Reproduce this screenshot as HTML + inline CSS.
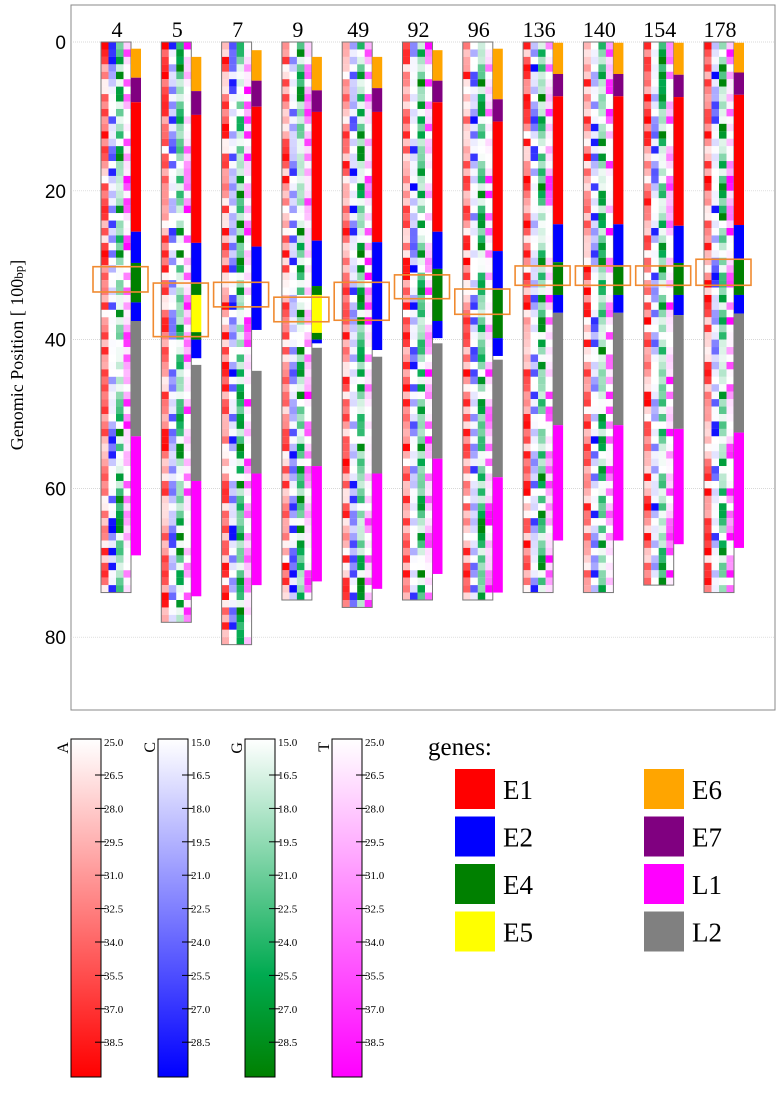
<!DOCTYPE html>
<html><head><meta charset="utf-8"><style>
html,body{margin:0;padding:0;background:#fff;}
svg{display:block;}
</style></head><body>
<svg id="chart" width="781" height="1116" viewBox="0 0 781 1116" xmlns="http://www.w3.org/2000/svg">
<rect x="71" y="5" width="704" height="705" fill="#fff" stroke="#888" stroke-width="1"/>
<g id="grid"></g>
<g id="yaxis"></g>
<text transform="translate(23,355) rotate(-90)" text-anchor="middle" font-family="Liberation Serif, serif" font-size="18">Genomic Position [ 100<tspan font-size="13">bp</tspan>]</text>
<g id="genomes"></g>
<g id="colorbars"></g>
<g id="legend"></g>
</svg>
<script>
const genomeLabels = ['4','5','7','9','49','92','96','136','140','154','178'];
const genomeLengths = [74,78,81,75,76,75,75,74,74,73,74];
const geneSegs0 = [['E6',0.9,4.8],['E7',4.8,8.1],['E1',8.1,25.5],['E2',25.5,29.7],['E4',29.7,35],['E2',35,37.5],['L2',37.5,53],['L1',53,69]];
const geneSegs1 = [['E6',2.0,6.6],['E7',6.6,9.8],['E1',9.8,27],['E2',27,32.4],['E4',32.4,34],['E5',34,39],['E4',39,40],['E2',40,42.5],['L2',43.4,59],['L1',59,74.5]];
const geneSegs2 = [['E6',1.1,5.2],['E7',5.2,8.7],['E1',8.7,27.5],['E2',27.5,38.7],['L2',44.2,58],['L1',58,73]];
const geneSegs3 = [['E6',2.0,6.5],['E7',6.5,9.4],['E1',9.4,26.7],['E2',26.7,32.8],['E4',32.8,34],['E5',34,39.1],['E4',39.1,40],['E2',40,40.5],['L2',41.1,57],['L1',57,72.5]];
const geneSegs4 = [['E6',2.0,6.2],['E7',6.2,9.4],['E1',9.4,26.9],['E2',26.9,41.4],['L2',42.3,58],['L1',58,73.5]];
const geneSegs5 = [['E6',1.1,5.2],['E7',5.2,8.1],['E1',8.1,25.5],['E2',25.5,30.5],['E4',30.5,37.5],['E2',37.5,39.8],['L2',40.5,56],['L1',56,71.5]];
const geneSegs6 = [['E6',0.9,7.7],['E7',7.7,10.7],['E1',10.7,28.1],['E2',28.1,33.3],['E4',33.3,39.8],['E2',39.8,42.2],['L2',42.7,58.5],['L1',58.5,74]];
const geneSegs7 = [['E6',0.1,4.3],['E7',4.3,7.3],['E1',7.3,24.5],['E2',24.5,29.6],['E4',29.6,34],['E2',34,36.4],['L2',36.4,51.5],['L1',51.5,67]];
const geneSegs8 = [['E6',0.1,4.3],['E7',4.3,7.3],['E1',7.3,24.5],['E2',24.5,30.2],['E4',30.2,34],['E2',34,36.4],['L2',36.4,51.5],['L1',51.5,67]];
const geneSegs9 = [['E6',0.1,4.4],['E7',4.4,7.4],['E1',7.4,24.7],['E2',24.7,29.7],['E4',29.7,34],['E2',34,36.7],['L2',36.7,52],['L1',52,67.5]];
const geneSegs10 = [['E6',0.1,4.1],['E7',4.1,7.1],['E1',7.1,24.6],['E2',24.6,29.2],['E4',29.2,34],['E2',34,36.5],['L2',36.5,52.5],['L1',52.5,68]];
const geneSegments = [geneSegs0,geneSegs1,geneSegs2,geneSegs3,geneSegs4,geneSegs5,geneSegs6,geneSegs7,geneSegs8,geneSegs9,geneSegs10];
const highlightStart = [30.2,32.4,32.3,34.3,32.3,31.3,33.2,30.1,30.1,30.1,29.2];
const highlightEnd = [33.6,39.6,35.6,37.6,37.4,34.5,36.6,32.7,32.7,32.7,32.7];
const yTicks = [0,20,40,60,80];
const geneNames = ['E1','E2','E4','E5','E6','E7','L1','L2'];
const geneColors = {E1:'#ff0000',E2:'#0000ff',E4:'#008000',E5:'#ffff00',E6:'#ffa500',E7:'#800080',L1:'#ff00ff',L2:'#808080'};
const cbLetters = ['A','C','G','T'];
const cbTicksA = ['25.0','26.5','28.0','29.5','31.0','32.5','34.0','35.5','37.0','38.5'];
const cbTicksC = ['15.0','16.5','18.0','19.5','21.0','22.5','24.0','25.5','27.0','28.5'];
const cbTicksG = ['15.0','16.5','18.0','19.5','21.0','22.5','24.0','25.5','27.0','28.5'];
const cbTicksT = ['25.0','26.5','28.0','29.5','31.0','32.5','34.0','35.5','37.0','38.5'];

const NS='http://www.w3.org/2000/svg';
function mk(tag,attrs,parent){const e=document.createElementNS(NS,tag);for(const k in attrs)e.setAttribute(k,attrs[k]);parent.appendChild(e);return e;}
const yScale = v => 42 + v*7.44;
const xScale = i => 101 + i*60.3;

const grid=document.getElementById('grid'), yax=document.getElementById('yaxis');
yTicks.forEach(t=>{
  const g=mk('line',{x1:71,x2:775,y1:yScale(t),y2:yScale(t),stroke:'#ccc','stroke-width':0.7,'stroke-dasharray':'1,1'},grid);
  
  
  const tx=mk('text',{x:66,y:yScale(t)+7,'text-anchor':'end','font-family':'Liberation Sans, sans-serif','font-size':19},yax);
  tx.textContent=t;
  
  
});

function colA(t){const c=Math.round(255*(1-t));return `rgb(255,${c},${c})`;}
function colC(t){const c=Math.round(255*(1-t));return `rgb(${c},${c},255)`;}
function colG(t){if(t<0.7){const u=t/0.7;return `rgb(${Math.round(255*(1-u))},${Math.round(255-85*u)},${Math.round(255-175*u)})`;}const u=(t-0.7)/0.3;return `rgb(0,${Math.round(170-42*u)},${Math.round(80-80*u)})`;}
function colT(t){const c=Math.round(255*(1-t));return `rgb(255,${c},255)`;}
const colFns=[colA,colC,colG,colT];
function hash(a,b,c){let h=(a*374761393+b*668265263+c*2147483647)>>>0;h=(h^(h>>>13))*1274126177>>>0;h=(h^(h>>>16))>>>0;return (h%10000)/10000;}
const pows=[1.1,3.0,1.5,2.6];

const gg=document.getElementById('genomes');
genomeLabels.forEach((lab,i)=>{
  const L=xScale(i);
  const grp=mk('g',{},gg);
  
  
  const tl=mk('text',{x:L+16,y:37,'text-anchor':'middle','font-family':'Liberation Serif, serif','font-size':22},grp);
  tl.textContent=lab;
  
  
  const n=genomeLengths[i];
  for(let r=0;r<n;r++){
    for(let c=0;c<4;c++){
      let t=Math.pow(hash(i+1,r+1,c+1),pows[c]);
      const cell=mk('rect',{x:L+c*7.5,y:yScale(r),width:7.6,height:7.5,fill:colFns[c](t)},grp);
      
      
    }
  }
  const box=mk('rect',{x:L,y:yScale(0),width:30,height:n*7.44,fill:'none',stroke:'#777','stroke-width':1},grp);
  
  
  geneSegments[i].forEach(s=>{
    const b=mk('rect',{x:L+30,y:yScale(s[1]),width:10,height:yScale(s[2])-yScale(s[1]),fill:geneColors[s[0]]},grp);
    
    
  });
  const hl=mk('rect',{x:L-8,y:yScale(highlightStart[i]),width:55,height:yScale(highlightEnd[i])-yScale(highlightStart[i]),fill:'none',stroke:'#f08a30','stroke-width':1.6},grp);
  
  
});

const cbg=document.getElementById('colorbars');
const defs=mk('defs',{},cbg);
const cbX=[71,158,245,332];
const cbTicks=[cbTicksA,cbTicksC,cbTicksG,cbTicksT];
cbLetters.forEach((l,k)=>{
  const grad=mk('linearGradient',{id:'cb'+k,x1:0,y1:0,x2:0,y2:1},defs);
  for(let s=0;s<=10;s++){mk('stop',{offset:s/10,'stop-color':colFns[k](s/10)},grad);}
  const x=cbX[k];
  const r=mk('rect',{x:x,y:739,width:30,height:338,fill:`url(#cb${k})`,stroke:'#000','stroke-width':1},cbg);
  
  
  const lt=mk('text',{transform:`translate(${x-3},742) rotate(-90)`,'text-anchor':'end','font-family':'Liberation Serif, serif','font-size':16},cbg);
  lt.textContent=l;
  
  
  cbTicks[k].forEach((tk,j)=>{
    const y= j===0 ? 745 : 778+(j-1)*33.4;
    if(j>0){mk('line',{x1:x+24,x2:x+35,y1:y-3,y2:y-3,stroke:'#000','stroke-width':1},cbg);}
    const tt=mk('text',{x:x+33,y:y+1,'font-family':'Liberation Serif, serif','font-size':11},cbg);
    tt.textContent=tk;
    
    
  });
});

const lg=document.getElementById('legend');
const gt=mk('text',{x:428,y:755,'font-family':'Liberation Serif, serif','font-size':25},lg);
gt.textContent='genes:';


geneNames.forEach((g,k)=>{
  const col=k<4?0:1, row=k%4;
  const sx=col===0?455:644, sy=769+row*47.5;
  const sw=mk('rect',{x:sx,y:sy,width:40,height:40,fill:geneColors[g]},lg);
  
  
  const t=mk('text',{x:sx+48,y:sy+30,'font-family':'Liberation Serif, serif','font-size':27},lg);
  t.textContent=g;
  
  
});
</script>
</body></html>
